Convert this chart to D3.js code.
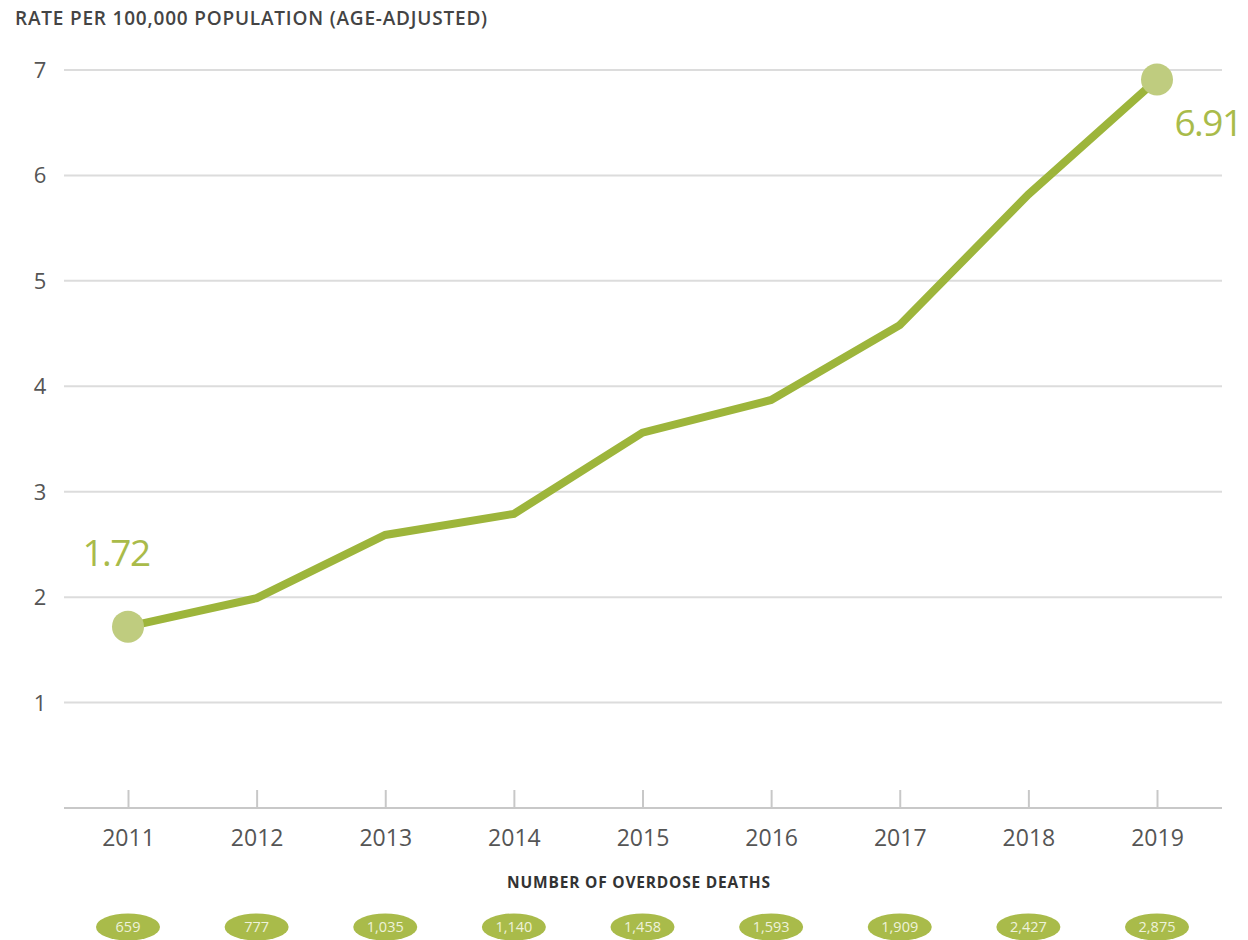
<!DOCTYPE html>
<html><head><meta charset="utf-8">
<script src="https://cdn.jsdelivr.net/npm/d3@7"></script>
<style>
body{margin:0;background:#fff;}
svg{display:block;font-family:"Open Sans","Noto Sans",sans-serif;}
</style></head>
<body><svg id="c" width="1248" height="940"></svg>
<script>
const years = [2011,2012,2013,2014,2015,2016,2017,2018,2019];
const rates = [1.72,1.99,2.59,2.79,3.56,3.87,4.58,5.82,6.91];
const deaths = ["659","777","1,035","1,140","1,458","1,593","1,909","2,427","2,875"];
const yTicks = [1,2,3,4,5,6,7];
const title = "RATE PER 100,000 POPULATION (AGE-ADJUSTED)";
const subTitle = "NUMBER OF OVERDOSE DEATHS";

const svg = d3.select("#c");
const x = d3.scalePoint().domain(years).range([128,1157]);
const y = d3.scaleLinear().domain([0,7]).range([808,70]);
const left = 64, right = 1222;
const green = "#9db53b", light = "#bfcc7f";

svg.append("text").attr("x",15).attr("y",25).attr("font-size",19).attr("font-weight",600)
  .attr("fill","#444").attr("letter-spacing",0.8).text(title);

// gridlines
svg.append("g").selectAll("line").data(yTicks).join("line")
  .attr("x1",left).attr("x2",right).attr("y1",d=>y(d)).attr("y2",d=>y(d))
  .attr("stroke","#dcdcdc").attr("stroke-width",2);
svg.append("g").selectAll("text").data(yTicks).join("text")
  .attr("x",40).attr("y",d=>y(d)+8).attr("text-anchor","middle")
  .attr("font-size",22).attr("fill","#555").text(d=>d);

// x axis
const xa = svg.append("g").attr("transform","translate(0,808)")
  .call(d3.axisBottom(x).tickSize(-18).tickPadding(0).tickFormat(d=>d));
xa.select(".domain").remove();
xa.selectAll(".tick line").attr("stroke","#c8c8c8").attr("stroke-width",2);
xa.selectAll(".tick text").attr("y",22).attr("font-size",23).attr("fill","#555")
  .attr("font-family","'Open Sans',sans-serif");
svg.append("line").attr("x1",left).attr("x2",right).attr("y1",808).attr("y2",808)
  .attr("stroke","#c8c8c8").attr("stroke-width",2);

// line
const pts = years.map((yr,i)=>[yr,rates[i]]);
svg.append("path").datum(pts)
  .attr("d",d3.line().x(d=>x(d[0])).y(d=>y(d[1])))
  .attr("fill","none").attr("stroke",green).attr("stroke-width",8).attr("stroke-linejoin","miter");

// endpoints
const ends = [pts[0], pts[pts.length-1]];
svg.selectAll("circle.end").data(ends).join("circle").attr("class","end")
  .attr("cx",d=>x(d[0])).attr("cy",d=>y(d[1])).attr("r",16).attr("fill",light);
svg.append("text").attr("x",x(years[0])-12).attr("y",y(rates[0])-61)
  .attr("text-anchor","middle").attr("font-size",37).attr("fill","#a9bb4a")
  .attr("letter-spacing",-1.5).text(rates[0].toFixed(2));
svg.append("text").attr("x",x(years[8])+51).attr("y",y(rates[8])+57)
  .attr("text-anchor","middle").attr("font-size",37).attr("fill","#a9bb4a")
  .attr("letter-spacing",-1.5).text(rates[8].toFixed(2));

svg.append("text").attr("x",639).attr("y",888).attr("text-anchor","middle")
  .attr("font-size",15.5).attr("font-weight",700).attr("fill","#333").attr("letter-spacing",0.8).text(subTitle);

const g = svg.append("g").selectAll("g").data(years).join("g")
  .attr("transform",(d)=>`translate(${x(d)},927)`);
g.append("ellipse").attr("rx",32).attr("ry",13.5).attr("fill","#a9bb4a");
g.append("text").attr("y",5).attr("text-anchor","middle").attr("font-size",14.5)
  .attr("fill","#eef2da").text((d,i)=>deaths[i]);
</script></body></html>
